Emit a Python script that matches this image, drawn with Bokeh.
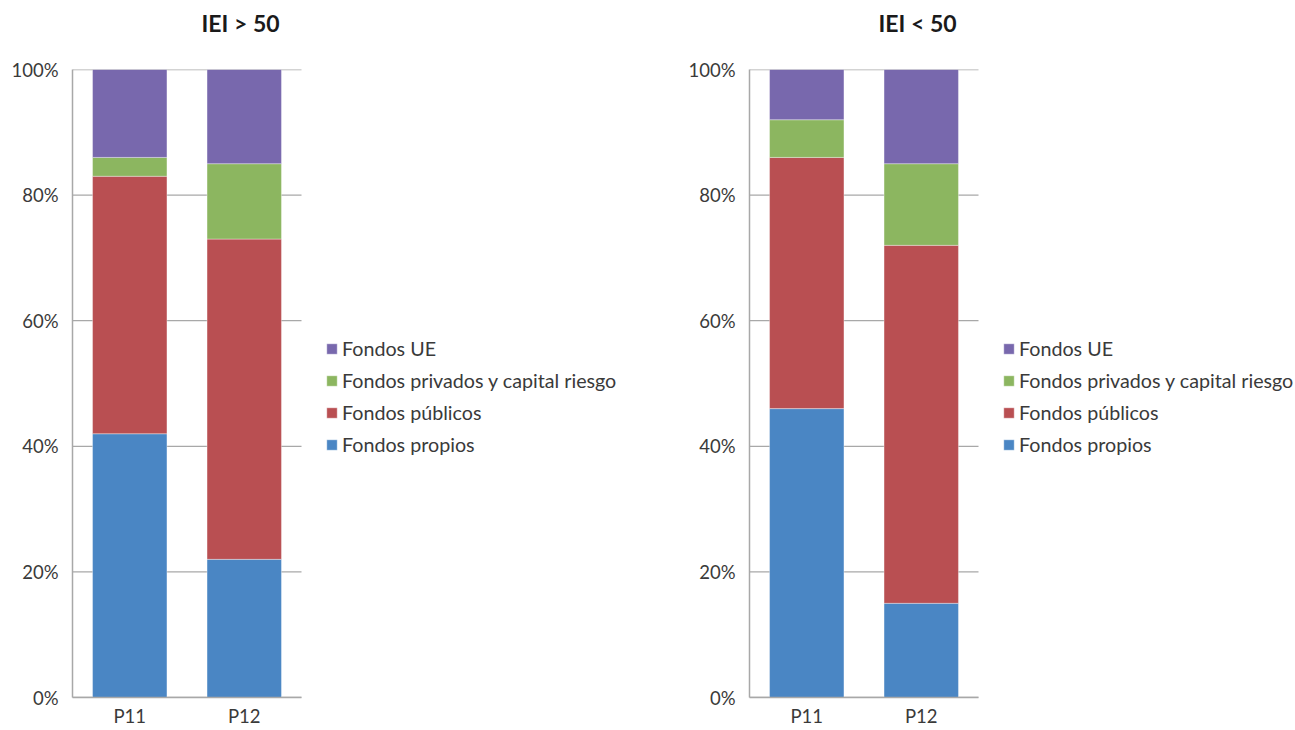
from bokeh.plotting import figure
from bokeh.layouts import row
from bokeh.models import (ColumnDataSource, Range1d, Legend, LegendItem, Title,
                          FixedTicker, CustomJSTickFormatter)
from bokeh.embed import file_html
from bokeh.resources import INLINE

# Funding structure (% of total) by period, for two groups of firms
periods = ["P11", "P12"]
series = ["Fondos propios", "Fondos públicos", "Fondos privados y capital riesgo", "Fondos UE"]
colors = ["#4a86c4", "#b94f52", "#8cb660", "#7868ad"]

high_propios = [42, 22]
high_publicos = [41, 51]
high_privados = [3, 12]
high_ue = [14, 15]

low_propios = [46, 15]
low_publicos = [40, 57]
low_privados = [6, 13]
low_ue = [8, 15]

y_ticks = [0, 20, 40, 60, 80, 100]

FONT = "Lato"
TEXT = "#3a3a3a"
GRID = "#a8a8a8"

SLOT_PX = 114.5      # width of one period slot in pixels
LEFT = 72            # space for the y axis
TOP = 69
BOTTOM = 33


def make_chart(title, values, width):
    keys = ["propios", "publicos", "privados", "ue"]
    centers = [i + 0.5 for i in range(len(periods))]
    data = {"x": centers}
    for k, v in zip(keys, values):
        data[k] = v
    src = ColumnDataSource(data)

    n = len(periods)
    x_end = (width - LEFT) / SLOT_PX
    p = figure(x_range=Range1d(0, x_end), y_range=Range1d(0, 100),
               width=width, height=730, output_backend="svg", toolbar_location=None,
               min_border_left=LEFT, min_border_right=0, min_border_top=TOP,
               min_border_bottom=BOTTOM)

    # horizontal gridlines spanning only the period slots
    p.segment(x0=[0] * len(y_ticks), x1=[n] * len(y_ticks), y0=y_ticks, y1=y_ticks,
              line_color=GRID, line_width=1.3)

    rs = p.vbar_stack(keys, x="x", width=0.65, source=src, color=colors,
                      line_color="white", line_width=0.6, line_alpha=0.6)

    # spacer nearest the frame, then the title above it
    p.add_layout(Title(text=" ", text_font_size="1px", standoff=30), "above")
    p.add_layout(Title(text=title, text_font=FONT, text_font_size="23px",
                       text_font_style="bold", text_color="#1a1a1a",
                       align="left", offset=129, standoff=0), "above")

    p.outline_line_color = None
    p.background_fill_color = "white"
    p.border_fill_color = "white"
    p.xgrid.grid_line_color = None
    p.ygrid.grid_line_color = None

    p.yaxis.ticker = FixedTicker(ticks=y_ticks)
    p.yaxis.formatter = CustomJSTickFormatter(code="return tick + '%';")
    p.xaxis.ticker = FixedTicker(ticks=centers)
    p.xaxis.major_label_overrides = {c: lab for c, lab in zip(centers, periods)}
    p.xaxis.bounds = (0, n)
    for ax in (p.xaxis, p.yaxis):
        ax.axis_line_color = GRID
        ax.axis_line_width = 1.5
        ax.major_tick_line_color = None
        ax.minor_tick_line_color = None
        ax.major_tick_in = 0
        ax.major_tick_out = 0
        ax.axis_label_standoff = 0
        ax.major_label_text_font = FONT
        ax.major_label_text_font_size = "18.5px"
        ax.major_label_text_color = TEXT
    p.yaxis.major_label_standoff = 14
    p.xaxis.major_label_standoff = 7

    items = [LegendItem(label=s, renderers=[r]) for s, r in zip(series, rs)][::-1]
    legend = Legend(items=items, location=(n * SLOT_PX + 24, 237), orientation="vertical",
                    border_line_color=None, background_fill_alpha=0,
                    padding=0, margin=0, spacing=0,
                    glyph_width=13, glyph_height=13, label_height=32,
                    label_standoff=4, label_text_font=FONT,
                    label_text_font_size="19.7px", label_text_color=TEXT)
    p.add_layout(legend, "center")
    return p


left = make_chart("IEI > 50", [high_propios, high_publicos, high_privados, high_ue], 677)
right = make_chart("IEI < 50", [low_propios, low_publicos, low_privados, low_ue], 618)

layout = row(left, right)
open("out.html", "w").write(file_html(layout, INLINE))
